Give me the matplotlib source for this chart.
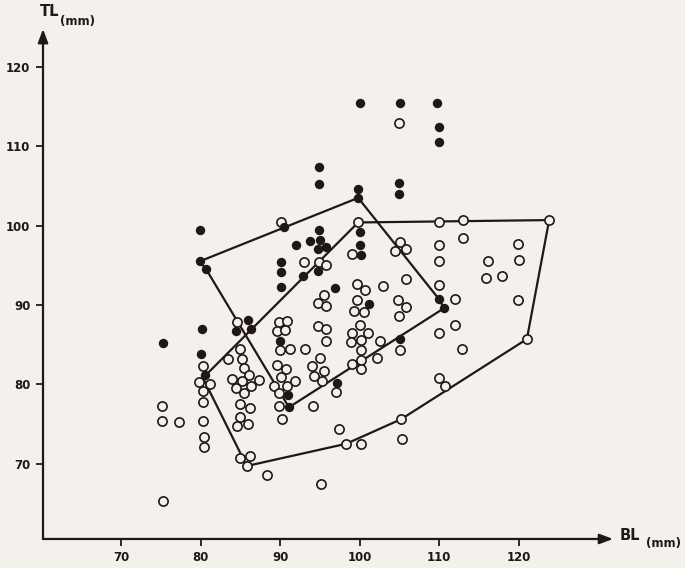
import matplotlib
matplotlib.use("Agg")
import matplotlib.pyplot as plt
import numpy as np

# BL / TL (mm)
solid_bl = [100.0, 105.0, 109.7, 109.9, 109.9, 94.9, 94.9, 99.8, 99.8, 104.9,
            104.9, 79.9, 79.9, 80.7, 90.5, 94.9, 92.0, 93.7, 95.0, 94.7,
            95.8, 94.7, 90.1, 90.1, 90.1, 92.9, 80.2, 85.9, 84.4, 86.3,
            90.0, 80.1, 80.6, 75.3, 91.0, 91.1, 100.0, 100.0, 100.2, 109.9,
            110.6, 96.9, 101.1, 105.0, 97.1]
solid_tl = [115.5, 115.4, 115.5, 112.4, 110.5, 107.4, 105.3, 104.6, 103.5, 105.4,
            104.0, 99.4, 95.5, 94.5, 99.8, 99.5, 97.6, 98.0, 98.2, 97.1,
            97.3, 94.3, 95.4, 94.2, 92.3, 93.6, 87.0, 88.1, 86.7, 87.0,
            85.4, 83.8, 81.2, 85.2, 78.6, 77.1, 99.2, 97.6, 96.3, 90.8,
            89.6, 92.2, 90.1, 85.7, 80.2]

open_bl = [104.9, 90.1, 99.8, 109.9, 113.0, 123.8, 93.0, 94.9, 95.8, 95.5,
           94.7, 95.8, 84.6, 89.8, 90.9, 89.6, 90.6, 94.7, 95.7, 95.7,
           85.0, 90.0, 91.2, 93.1, 80.3, 79.8, 81.2, 80.3, 80.3, 80.3,
           80.4, 80.4, 75.1, 75.2, 77.3, 75.3, 83.4, 85.2, 85.4, 86.1,
           84.0, 85.2, 86.3, 84.4, 85.5, 87.4, 84.9, 86.2, 85.0, 84.6,
           86.0, 84.9, 86.2, 85.8, 88.4, 89.6, 90.7, 90.1, 91.9, 89.2,
           90.8, 89.9, 89.9, 90.2, 94.1, 95.0, 94.0, 95.5, 94.3, 95.3,
           97.4, 95.1, 100.2, 98.3, 105.2, 105.3, 97.0, 99.0, 105.0, 104.4,
           105.8, 109.9, 113.0, 110.0, 105.8, 110.0, 112.0, 112.0, 110.0, 112.9,
           99.7, 100.7, 102.9, 99.7, 99.3, 100.5, 104.8, 105.8, 104.9, 100.0,
           99.0, 101.0, 100.1, 98.9, 102.5, 100.1, 105.0, 99.0, 100.2, 102.2,
           100.2, 109.9, 110.7, 119.9, 120.0, 116.1, 115.9, 117.9, 119.9, 121.0]
open_tl = [112.9, 100.4, 100.4, 100.5, 100.7, 100.7, 95.4, 95.4, 95.0, 91.2,
           90.2, 89.9, 87.8, 87.9, 88.0, 86.7, 86.8, 87.4, 87.0, 85.4,
           84.4, 84.3, 84.4, 84.4, 82.3, 80.3, 80.0, 79.1, 77.8, 75.4,
           73.4, 72.1, 77.2, 75.4, 75.3, 65.3, 83.2, 83.2, 82.1, 81.2,
           80.7, 80.4, 79.8, 79.5, 78.9, 80.6, 77.5, 77.0, 75.9, 74.7,
           75.0, 70.7, 71.0, 69.7, 68.6, 82.4, 81.9, 80.9, 80.4, 79.8,
           79.8, 78.9, 77.3, 75.6, 77.3, 83.3, 82.3, 81.7, 81.1, 80.4,
           74.4, 67.4, 72.5, 72.5, 75.6, 73.1, 79.0, 96.4, 97.9, 96.8,
           97.0, 97.6, 98.5, 95.5, 93.3, 92.5, 90.8, 87.5, 86.5, 84.4,
           92.6, 91.9, 92.4, 90.6, 89.3, 89.1, 90.6, 89.8, 88.6, 87.5,
           86.5, 86.5, 85.6, 85.3, 85.5, 84.3, 84.3, 82.6, 83.1, 83.3,
           81.9, 80.8, 79.8, 97.7, 95.7, 95.5, 93.4, 93.6, 90.6, 85.7]

# outline polygons
solid_hull_bl = [79.9, 99.8, 109.9, 110.6, 91.1, 80.7, 79.9]
solid_hull_tl = [95.5, 103.5, 90.8, 89.6, 77.1, 94.5, 95.5]
open_hull_bl = [99.8, 123.8, 121.0, 105.2, 98.3, 85.8, 80.3, 99.8]
open_hull_tl = [100.4, 100.7, 85.7, 75.6, 72.5, 69.7, 80.8, 100.4]

xticks = [70, 80, 90, 100, 110, 120]
yticks = [70, 80, 90, 100, 110, 120]

bg = '#f4f0eb'
ink = '#201818'

fig = plt.figure(figsize=(6.85, 5.68), dpi=100, facecolor=bg)
ax = fig.add_axes([0.0628, 0.0511, 0.8423, 0.905])
ax.set_facecolor(bg)
ax.set_xlim(60.2, 132.7)
ax.set_ylim(60.5, 125.3)

ax.plot(solid_hull_bl, solid_hull_tl, color=ink, lw=1.6, zorder=2)
ax.plot(open_hull_bl, open_hull_tl, color=ink, lw=1.6, zorder=2)

ax.scatter(open_bl, open_tl, s=44, facecolors=bg, edgecolors=ink, linewidths=1.2, zorder=3)
ax.scatter(solid_bl, solid_tl, s=46, color=ink, linewidths=0, zorder=4)

for s in ax.spines.values():
    s.set_visible(False)

# axes with arrowheads
ax.annotate('', xy=(0.988, 0), xytext=(0, 0), xycoords='axes fraction',
            arrowprops=dict(arrowstyle='-|>,head_length=0.8,head_width=0.3', color=ink, lw=1.6, shrinkA=0, shrinkB=0))
ax.annotate('', xy=(0, 0.992), xytext=(0, 0), xycoords='axes fraction',
            arrowprops=dict(arrowstyle='-|>,head_length=0.8,head_width=0.3', color=ink, lw=1.6, shrinkA=0, shrinkB=0))

ax.set_xticks(xticks)
ax.set_yticks(yticks)
ax.set_xticklabels([str(t) for t in xticks], fontsize=8.5, fontweight='bold', color=ink)
ax.set_yticklabels([str(t) for t in yticks], fontsize=8.5, fontweight='bold', color=ink)
ax.tick_params(axis='both', direction='out', length=5, width=1.3, color=ink, pad=4)

fig.text(40 / 685, 1 - 12 / 568, 'TL', fontsize=10.5, fontweight='bold', color=ink, va='center', ha='left')
fig.text(60 / 685, 1 - 21 / 568, '(mm)', fontsize=8.5, fontweight='bold', color=ink, va='center', ha='left')
fig.text(620 / 685, 1 - 536 / 568, 'BL', fontsize=10.5, fontweight='bold', color=ink, va='center', ha='left')
fig.text(646 / 685, 1 - 544 / 568, '(mm)', fontsize=8.5, fontweight='bold', color=ink, va='center', ha='left')

fig.savefig('out.png', dpi=100, facecolor=bg)
